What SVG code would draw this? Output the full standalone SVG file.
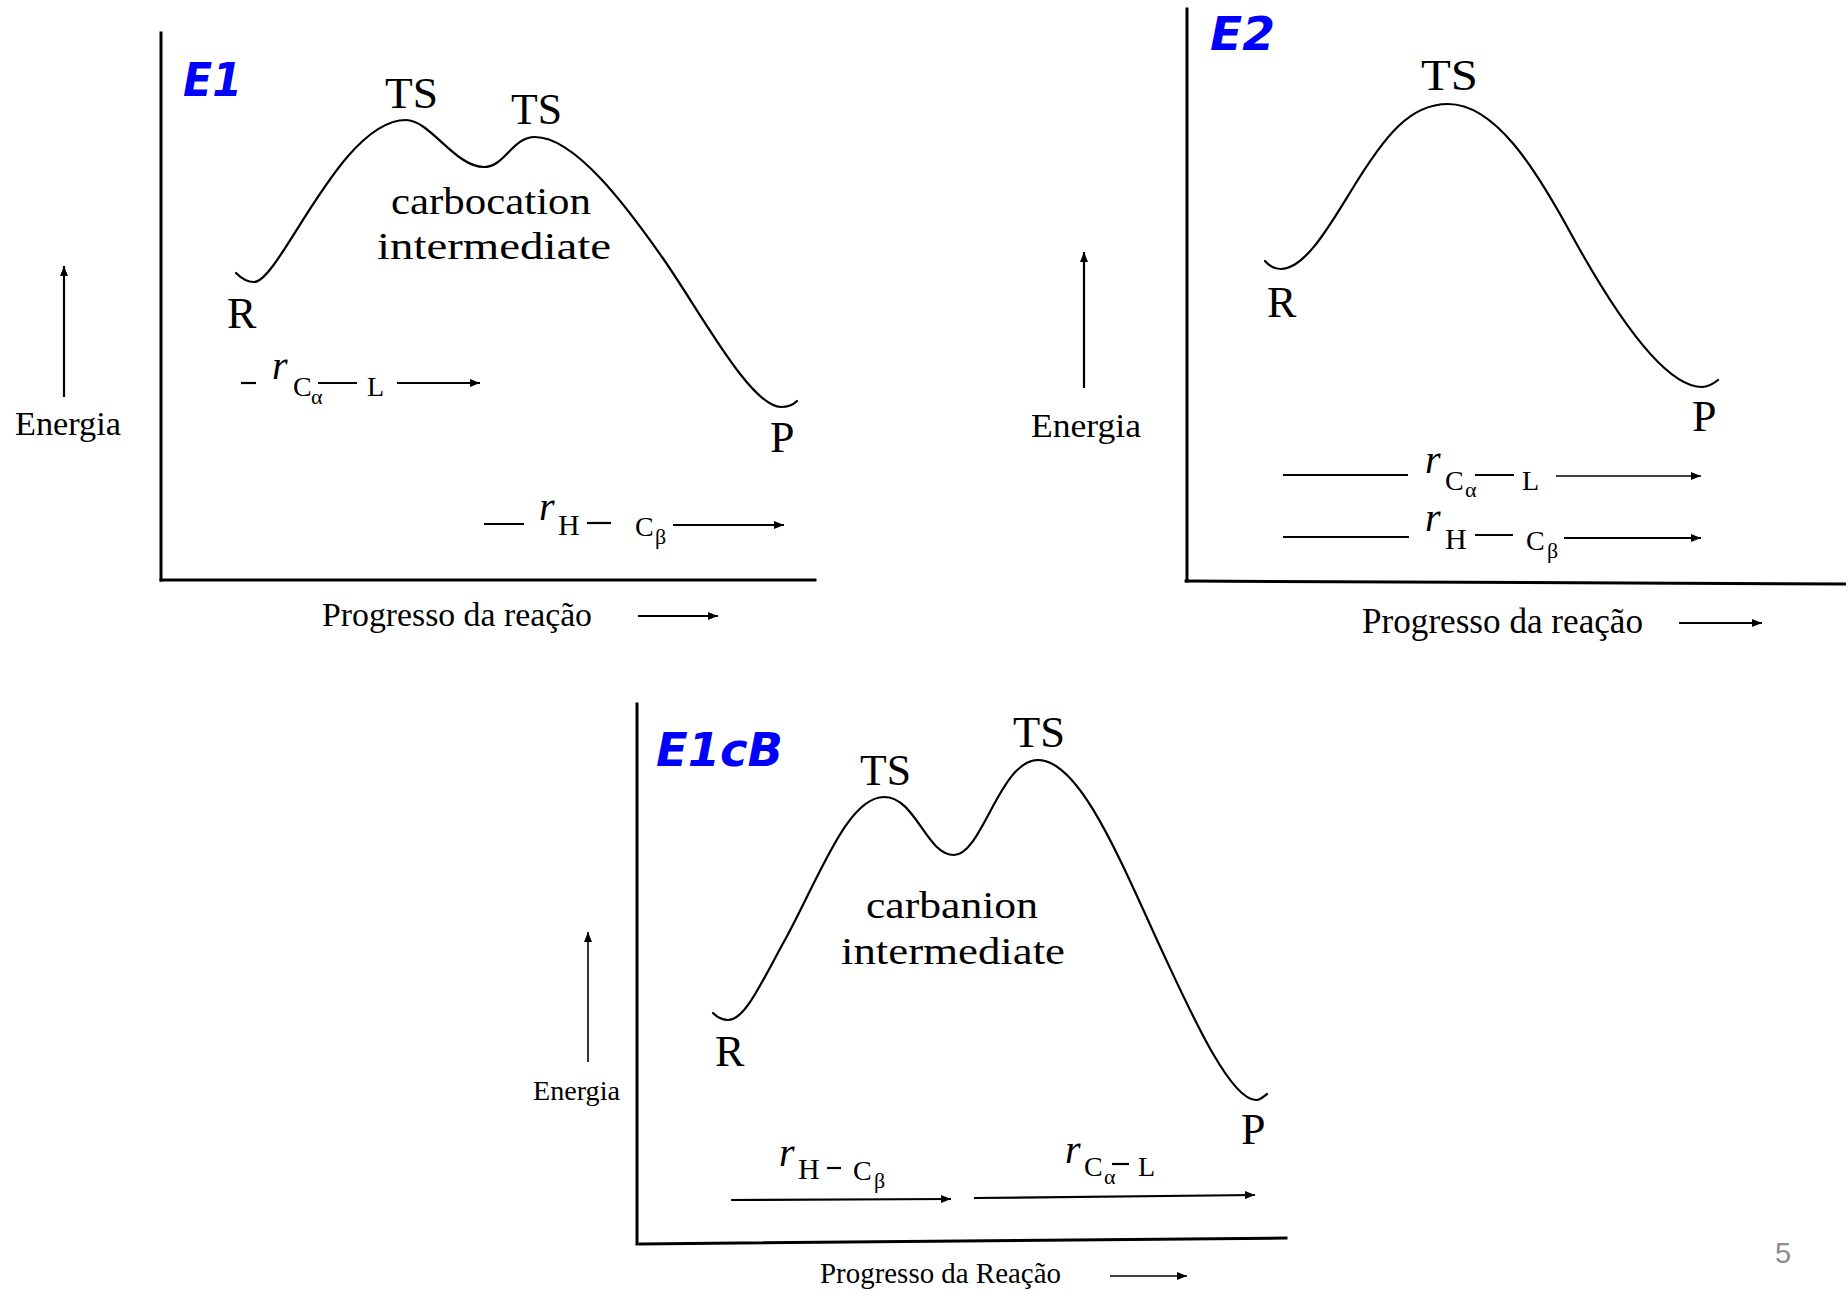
<svg xmlns="http://www.w3.org/2000/svg" width="1846" height="1292" viewBox="0 0 1846 1292">
<defs>
<style>
.ax{stroke:#000;stroke-width:3;fill:none;stroke-linecap:square}
.cv{stroke:#000;stroke-width:2.2;fill:none;stroke-linecap:round;stroke-linejoin:round}
.ln{stroke:#000;stroke-width:2.2;fill:none}
.ar{stroke:#000;stroke-width:2.2;fill:none;marker-end:url(#ah)}
.art{stroke:#000;stroke-width:1.6;fill:none;marker-end:url(#ah)}
.t{font-family:"Liberation Serif","Times New Roman",serif;fill:#000}
.lb{font-size:44px}
.it{font-style:italic;font-size:40px}
.sb{font-size:28px}
.ss{font-size:22px}
.ttl{font-family:"DejaVu Sans","Liberation Sans",sans-serif;font-weight:bold;font-style:italic;font-size:46px;fill:#0000ff}
</style>
<marker id="ah" viewBox="0 0 10 8" refX="10" refY="4" markerWidth="10" markerHeight="8" markerUnits="userSpaceOnUse" orient="auto">
<path d="M0,0 L10,4 L0,8 Z" fill="#000"/>
</marker>
</defs>
<rect width="1846" height="1292" fill="#fff"/>

<g id="panel-E1">
<line class="ax" x1="161" y1="33" x2="161" y2="580"/>
<line class="ax" x1="161" y1="580" x2="815" y2="580"/>
<text class="ttl" x="183" y="96" textLength="59" lengthAdjust="spacingAndGlyphs">E1</text>
<path class="cv" d="M236,273 C242,279 248,282 254,282 C280,282 340,120 406,120 C430,120 455,167 484,167 C505,167 512,137 535,137 C575,137 627,207 662,257 C697,306 750,407 781,407 C788,407 793,405 797,401"/>
<text class="t lb" x="385" y="108" textLength="53" lengthAdjust="spacingAndGlyphs">TS</text>
<text class="t lb" x="511" y="124" textLength="51" lengthAdjust="spacingAndGlyphs">TS</text>
<text class="t" font-size="38" x="391" y="214" textLength="200" lengthAdjust="spacingAndGlyphs">carbocation</text>
<text class="t" font-size="38" x="377" y="259" textLength="234" lengthAdjust="spacingAndGlyphs">intermediate</text>
<text class="t lb" x="227" y="328">R</text>
<text class="t lb" x="770" y="452">P</text>
<text class="t" font-size="34" x="15" y="435" textLength="106" lengthAdjust="spacingAndGlyphs">Energia</text>
<line class="ar" x1="64" y1="397" x2="64" y2="266"/>
<text class="t" font-size="34" x="322" y="626" textLength="270" lengthAdjust="spacingAndGlyphs">Progresso da reação</text>
<line class="ar" x1="638" y1="616" x2="718" y2="616"/>
<g id="E1-rCL">
<line class="ln" x1="241" y1="383" x2="256" y2="383"/>
<text class="t it" x="272" y="379">r</text>
<text class="t sb" x="293" y="396">C</text>
<text class="t ss" x="311" y="404">α</text>
<line class="ln" x1="318" y1="383" x2="357" y2="383"/>
<text class="t sb" x="367" y="396">L</text>
<line class="ar" x1="397" y1="383" x2="480" y2="383"/>
</g>
<g id="E1-rHC">
<line class="ln" x1="484" y1="524" x2="524" y2="524"/>
<text class="t it" x="539" y="520">r</text>
<text class="t" font-size="30" x="558" y="535">H</text>
<line class="ln" x1="587" y1="523" x2="611" y2="523"/>
<text class="t sb" x="635" y="536">C</text>
<text class="t ss" x="655" y="544">β</text>
<line class="ar" x1="673" y1="525" x2="784" y2="525"/>
</g>
</g>

<g id="panel-E2">
<line class="ax" x1="1187" y1="9" x2="1187" y2="581"/>
<line class="ax" x1="1186" y1="581" x2="1846" y2="584"/>
<text class="ttl" x="1210" y="50" textLength="65" lengthAdjust="spacingAndGlyphs">E2</text>
<path class="cv" d="M1265,261 C1270,267 1275,269 1281,269 C1305,269 1330,225 1351,191 C1385,135 1410,104 1448,104 C1495,104 1535,168 1570,232 C1605,296 1660,387 1702,387 C1708,387 1713,384 1718,380"/>
<text class="t lb" x="1421" y="90" textLength="57" lengthAdjust="spacingAndGlyphs">TS</text>
<text class="t lb" x="1267" y="317">R</text>
<text class="t lb" x="1692" y="431">P</text>
<text class="t" font-size="34" x="1031" y="437" textLength="110" lengthAdjust="spacingAndGlyphs">Energia</text>
<line class="ar" x1="1084" y1="388" x2="1084" y2="252"/>
<text class="t" font-size="35" x="1362" y="633" textLength="281" lengthAdjust="spacingAndGlyphs">Progresso da reação</text>
<line class="ar" x1="1679" y1="623" x2="1762" y2="623"/>
<g id="E2-rCL">
<line class="ln" stroke-width="3" x1="1283" y1="475" x2="1408" y2="475"/>
<text class="t it" x="1425" y="473">r</text>
<text class="t sb" x="1445" y="490">C</text>
<text class="t ss" x="1465" y="497">α</text>
<line class="ln" x1="1475" y1="475" x2="1514" y2="475"/>
<text class="t sb" x="1522" y="490">L</text>
<line class="art" x1="1556" y1="476" x2="1701" y2="476"/>
</g>
<g id="E2-rHC">
<line class="ln" stroke-width="2.6" x1="1283" y1="537" x2="1409" y2="537"/>
<text class="t it" x="1425" y="531">r</text>
<text class="t" font-size="30" x="1445" y="549">H</text>
<line class="ln" x1="1475" y1="535" x2="1513" y2="535"/>
<text class="t sb" x="1526" y="550">C</text>
<text class="t ss" x="1547" y="558">β</text>
<line class="ar" stroke-width="3" x1="1564" y1="538" x2="1701" y2="538"/>
</g>
</g>

<g id="panel-E1cB">
<line class="ax" x1="637" y1="704" x2="637" y2="1244"/>
<line class="ax" x1="640" y1="1244" x2="1286" y2="1238"/>
<text class="ttl" x="656" y="766" textLength="127" lengthAdjust="spacingAndGlyphs">E1cB</text>
<path class="cv" d="M713,1013 C718,1018 722,1020 728,1020 C745,1020 760,985 786,938 C820,875 848,797 884,797 C916,797 926,855 954,855 C982,855 1000,760 1038,760 C1080,760 1120,860 1163,953 C1190,1011 1230,1100 1256,1100 C1260,1100 1263,1097 1267,1094"/>
<text class="t lb" x="860" y="785" textLength="51" lengthAdjust="spacingAndGlyphs">TS</text>
<text class="t lb" x="1013" y="747" textLength="52" lengthAdjust="spacingAndGlyphs">TS</text>
<text class="t" font-size="38" x="866" y="918" textLength="172" lengthAdjust="spacingAndGlyphs">carbanion</text>
<text class="t" font-size="38" x="841" y="964" textLength="224" lengthAdjust="spacingAndGlyphs">intermediate</text>
<text class="t lb" x="715" y="1066">R</text>
<text class="t lb" x="1241" y="1144">P</text>
<text class="t" font-size="28" x="533" y="1100" textLength="87" lengthAdjust="spacingAndGlyphs">Energia</text>
<line class="art" x1="588" y1="1062" x2="588" y2="932"/>
<text class="t" font-size="29" x="820" y="1283" textLength="241" lengthAdjust="spacingAndGlyphs">Progresso da Reação</text>
<line class="art" x1="1110" y1="1276" x2="1187" y2="1276"/>
<g id="E1cB-rHC">
<text class="t it" x="779" y="1166">r</text>
<text class="t" font-size="30" x="798" y="1179">H</text>
<line class="ln" x1="827" y1="1168" x2="841" y2="1168"/>
<text class="t sb" x="853" y="1180">C</text>
<text class="t ss" x="874" y="1188">β</text>
<line class="ar" x1="731" y1="1200" x2="951" y2="1199"/>
</g>
<g id="E1cB-rCL">
<text class="t it" x="1065" y="1163">r</text>
<text class="t sb" x="1084" y="1176">C</text>
<text class="t ss" x="1104" y="1184">α</text>
<line class="ln" x1="1112" y1="1164" x2="1129" y2="1164"/>
<text class="t sb" x="1138" y="1176">L</text>
<line class="ar" x1="974" y1="1198" x2="1255" y2="1195"/>
</g>
</g>

<text id="page-number" x="1775" y="1263" font-family="Liberation Sans, Arial, sans-serif" font-size="29" fill="#8c8c8c">5</text>
</svg>
